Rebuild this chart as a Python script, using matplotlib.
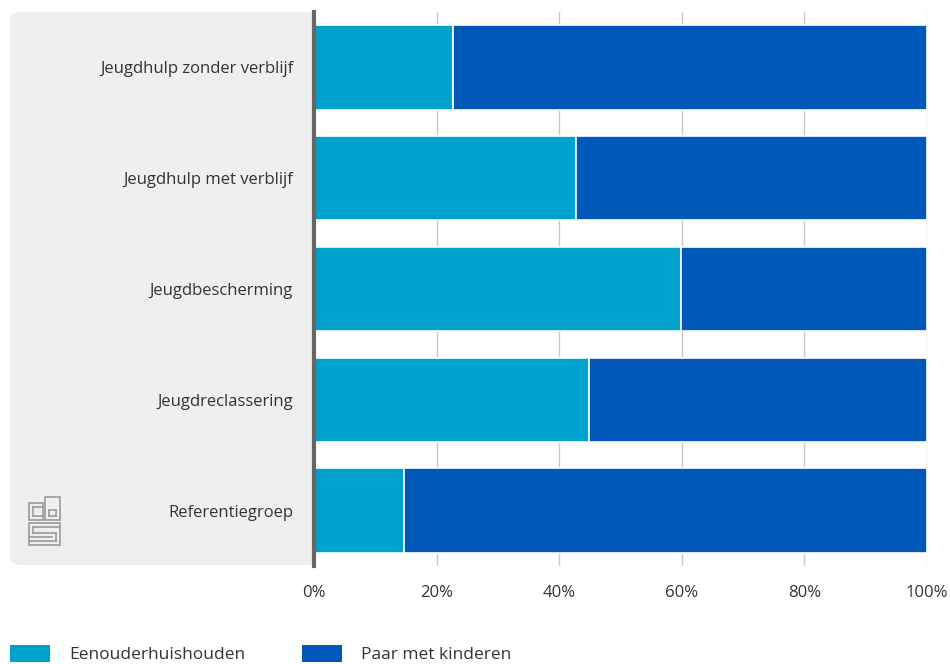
import matplotlib.pyplot as plt
import numpy as np
from matplotlib.patches import FancyBboxPatch, Rectangle
from matplotlib.lines import Line2D

categories = [
    "Jeugdhulp zonder verblijf",
    "Jeugdhulp met verblijf",
    "Jeugdbescherming",
    "Jeugdreclassering",
    "Referentiegroep",
]
eenouder = [22.7, 42.8, 59.9, 44.8, 14.7]
paar = [100 - v for v in eenouder]
series_names = ["Eenouderhuishouden", "Paar met kinderen"]
colors = ["#00a1cd", "#0058b8"]
xticks = [0, 20, 40, 60, 80, 100]

plt.rcParams["font.family"] = ["Open Sans", "DejaVu Sans"]
text_color = "#333333"

W, H = 950, 664
fig = plt.figure(figsize=(W / 100, H / 100), dpi=100)


def fx(px):
    return px / W


def fy(py):
    return 1 - py / H


# grey panel behind the category labels
panel = FancyBboxPatch(
    (fx(10), fy(565)), fx(320) - fx(10), fy(12) - fy(565),
    boxstyle="round,pad=0,rounding_size=0.012",
    transform=fig.transFigure, facecolor="#efefef", edgecolor="none", zorder=-1,
)
fig.patches.append(panel)

ax = fig.add_axes([fx(314), fy(566), fx(927) - fx(314), fy(12) - fy(566)])
ax.set_zorder(2)
ax.set_facecolor("white")
y = np.arange(len(categories))
ax.barh(y, eenouder, height=0.76, color=colors[0], edgecolor="white", linewidth=1.2, zorder=3)
ax.barh(y, paar, left=eenouder, height=0.76, color=colors[1], edgecolor="white", linewidth=1.2, zorder=3)

ax.set_xlim(0, 100)
ax.set_ylim(len(categories) - 0.5, -0.5)
for v in xticks[1:]:
    ax.axvline(v, color="#c8c8c8", lw=1, zorder=1)
for s in ["top", "right", "bottom"]:
    ax.spines[s].set_visible(False)
ax.spines["left"].set_color("#666666")
ax.spines["left"].set_linewidth(3)
ax.spines["left"].set_zorder(5)
ax.set_xticks(xticks)
ax.set_xticklabels([f"{v}%" for v in xticks], fontsize=12, color=text_color)
ax.tick_params(axis="x", length=0, pad=14)
ax.set_yticks(y)
ax.set_yticklabels(categories, fontsize=12, color=text_color)
ax.tick_params(axis="y", length=0, pad=15)

# legend
for (x0, tx), name, col in zip([(10, 69), (302, 361)], series_names, colors):
    fig.patches.append(Rectangle((fx(x0), fy(662)), fx(40), fy(645) - fy(662),
                                 transform=fig.transFigure, facecolor=col, edgecolor="none"))
    fig.text(fx(tx), fy(655), name, ha="left", va="center", fontsize=12.5, color=text_color)

# simple cbs logo outline
logo_col = "#9a9a9a"
boxes = [(29, 503, 14, 17), (45, 497, 15, 23), (29, 523, 31, 22)]
for bx, by, bw, bh in boxes:
    fig.patches.append(Rectangle((fx(bx), fy(by + bh)), fx(bw), fy(by) - fy(by + bh),
                                 transform=fig.transFigure, facecolor="none",
                                 edgecolor=logo_col, lw=1.2))
inner = [
    [(33, 507), (43, 507)], [(33, 507), (33, 516)], [(33, 516), (43, 516)],
    [(49, 510), (56, 510)], [(49, 510), (49, 516)], [(49, 516), (56, 516)], [(56, 510), (56, 516)],
    [(33, 527), (60, 527)], [(33, 527), (33, 533)], [(33, 533), (56, 533)],
    [(56, 533), (56, 541)], [(56, 541), (29, 541)], [(29, 537), (52, 537)],
]
for seg in inner:
    xs = [fx(p[0]) for p in seg]
    ys = [fy(p[1]) for p in seg]
    fig.lines.append(Line2D(xs, ys, transform=fig.transFigure, color=logo_col, lw=1.2))

fig.savefig("out.png", dpi=100)
